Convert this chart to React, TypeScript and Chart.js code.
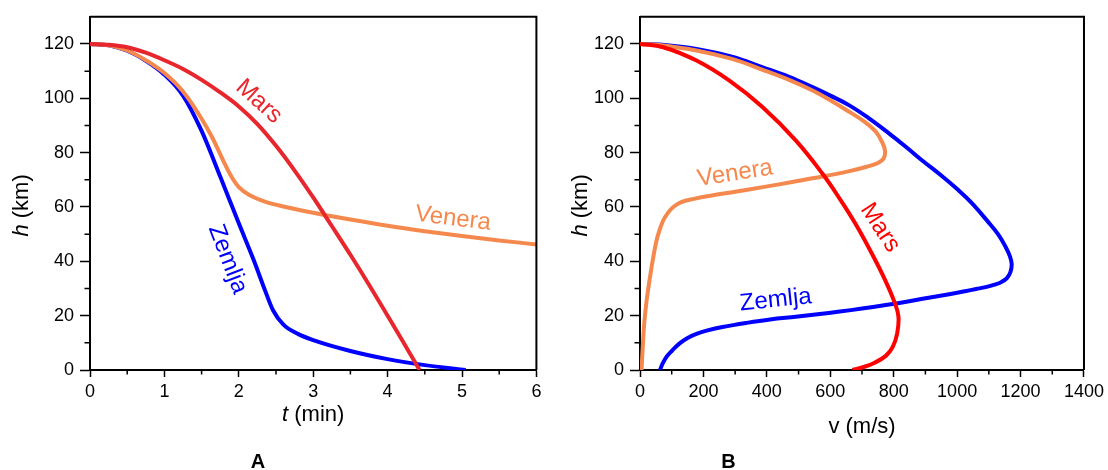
import React, { useEffect, useRef } from "react";
import { Chart, registerables } from "chart.js";

Chart.register(...registerables);

const FONT = '"Liberation Sans", Arial, Helvetica, sans-serif';

// ---------- Panel A : altitude h (km) vs time t (min) ----------
const marsTimeA = [0, 0.25, 0.5, 0.75, 1.0, 1.25, 1.5, 1.75, 2.0, 2.25, 2.5, 2.75, 3.0, 3.25, 3.5, 3.75, 4.0, 4.2, 4.43];
const marsAltA = [120, 119.7, 118.8, 116.8, 114.0, 110.8, 106.8, 102.2, 97.0, 90.5, 82.5, 73.4, 63.5, 53.0, 42.4, 31.4, 20.0, 10.8, 0];

const veneraTimeA = [0, 0.25, 0.5, 0.75, 1.0, 1.25, 1.5, 1.65, 1.8, 1.9, 2.0, 2.15, 2.35, 2.6, 3.0, 3.5, 4.0, 4.5, 5.0, 5.5, 6.0];
const veneraAltA = [120, 119.5, 117.6, 114.0, 109.3, 102.5, 92.5, 85.2, 76.5, 71.2, 67.3, 64.3, 62.0, 60.2, 57.9, 55.4, 53.1, 51.1, 49.3, 47.7, 46.2];

const zemljaTimeA = [0, 0.25, 0.5, 0.75, 1.0, 1.25, 1.5, 1.75, 2.0, 2.2, 2.35, 2.46, 2.6, 2.8, 3.0, 3.5, 4.0, 4.5, 5.05];
const zemljaAltA = [120, 119.5, 117.5, 113.8, 108.7, 101.0, 88.0, 71.2, 54.0, 40.5, 29.5, 22.0, 16.7, 13.2, 11.0, 7.0, 4.0, 1.8, 0];

// ---------- Panel B : altitude h (km) vs speed v (m/s) ----------
const marsSpeedB = [0, 73, 178, 282, 387, 491, 575, 630, 679, 731, 773, 804, 815, 811, 797, 775, 740, 705, 670];
const marsAltB = [120, 118.8, 113.9, 106.5, 96.7, 84.5, 72.3, 63.0, 53.9, 42.9, 33.1, 24.5, 19.6, 13.5, 8.5, 5.2, 2.7, 1.1, 0];

const veneraSpeedB = [0, 60, 178, 290, 387, 470, 544, 600, 660, 710, 745, 765, 773, 768, 750, 715, 660, 575, 480, 387, 300, 230, 170, 130, 105, 88, 73, 55, 42, 30, 21, 14, 10, 7, 5];
const veneraAltB = [120, 119.6, 117.6, 114.5, 110.5, 106.8, 102.9, 99.3, 95.0, 91.2, 87.5, 83.5, 80.5, 77.8, 76.2, 74.8, 73.2, 71.2, 69.2, 67.3, 65.6, 64.3, 63.0, 61.8, 60.0, 57.8, 55.0, 49.0, 41.6, 33.0, 25.7, 18.0, 11.0, 5.0, 0];

const zemljaSpeedB = [0, 60, 178, 290, 387, 470, 544, 600, 660, 720, 784, 840, 888, 950, 1000, 1045, 1097, 1130, 1152, 1166, 1172, 1168, 1157, 1140, 1118, 1090, 1060, 1025, 975, 910, 840, 770, 700, 630, 560, 491, 410, 334, 260, 210, 178, 150, 125, 100, 84, 72, 63];
const zemljaAltB = [120, 119.8, 118.2, 115.3, 111.4, 107.9, 104.1, 101.0, 97.4, 92.8, 87.2, 82.0, 77.3, 71.6, 66.6, 61.6, 54.6, 49.8, 45.5, 42.0, 39.0, 36.0, 33.8, 32.4, 31.4, 30.5, 29.8, 29.0, 27.9, 26.6, 25.1, 23.8, 22.6, 21.5, 20.5, 19.6, 18.6, 17.3, 15.8, 14.5, 13.3, 11.8, 9.8, 7.0, 4.9, 2.5, 0];

// ---------- ticks ----------
const tTicks = [0, 1, 2, 3, 4, 5, 6];
const tMinorTicks = [0.5, 1.5, 2.5, 3.5, 4.5, 5.5];
const vTicks = [0, 200, 400, 600, 800, 1000, 1200, 1400];
const vMinorTicks = [100, 300, 500, 700, 900, 1100, 1300];
const hTicks = [0, 20, 40, 60, 80, 100, 120];
const hMinorTicks = [10, 30, 50, 70, 90, 110];

const RED_A = "#e8262d";
const RED_B = "#ff0000";
const BLUE = "#0000ff";
const ORANGE = "#f5894d";

type Curve = { label: string; xs: number[]; ys: number[]; color: string };
type Note = { text: string; x: number; y: number; angle: number; color: string };
type Spec = {
  curves: Curve[];
  xMax: number;
  xTicks: number[];
  xMinor: number[];
  xTitle: [string, boolean][];
  xTitleDy: number;
  yTitleDx: number;
  notes: Note[];
  letter: string;
  letterDx: number;
  yAxisWidth: number;
  padRight: number;
  monotone: boolean;
};

const specA: Spec = {
  curves: [
    { label: "Mars", xs: marsTimeA, ys: marsAltA, color: RED_A },
    { label: "Venera", xs: veneraTimeA, ys: veneraAltA, color: ORANGE },
    { label: "Zemlja", xs: zemljaTimeA, ys: zemljaAltA, color: BLUE },
  ],
  xMax: 6,
  xTicks: tTicks,
  xMinor: tMinorTicks,
  xTitle: [["t", true], [" (min)", false]],
  xTitleDy: 45,
  yTitleDx: 68,
  notes: [
    { text: "Mars", x: 2.27, y: 98.8, angle: 42, color: RED_A },
    { text: "Zemlja", x: 1.85, y: 40.8, angle: 69, color: BLUE },
    { text: "Venera", x: 4.88, y: 55.7, angle: 7, color: ORANGE },
  ],
  letter: "A",
  letterDx: 168,
  yAxisWidth: 90,
  padRight: 17.6,
  monotone: true,
};

const specB: Spec = {
  curves: [
    { label: "Mars", xs: marsSpeedB, ys: marsAltB, color: RED_B },
    { label: "Venera", xs: veneraSpeedB, ys: veneraAltB, color: ORANGE },
    { label: "Zemlja", xs: zemljaSpeedB, ys: zemljaAltB, color: BLUE },
  ],
  xMax: 1400,
  xTicks: vTicks,
  xMinor: vMinorTicks,
  xTitle: [["v (m/s)", false]],
  xTitleDy: 56.7,
  yTitleDx: 59.5,
  notes: [
    { text: "Venera", x: 300, y: 72.3, angle: -9, color: ORANGE },
    { text: "Mars", x: 757, y: 52.4, angle: 57, color: RED_B },
    { text: "Zemlja", x: 428, y: 25.7, angle: -6, color: BLUE },
  ],
  letter: "B",
  letterDx: 88.5,
  yAxisWidth: 86,
  padRight: 21.6,
  monotone: false,
};

function drawParts(ctx: CanvasRenderingContext2D, parts: [string, boolean][], cx: number, cy: number, rot: number, size: number, color: string) {
  ctx.save();
  ctx.translate(cx, cy);
  ctx.rotate(rot);
  ctx.fillStyle = color;
  ctx.textBaseline = "middle";
  ctx.textAlign = "left";
  const fonts = parts.map(([, it]) => `${it ? "italic " : ""}${size}px ${FONT}`);
  let total = 0;
  const widths = parts.map(([t], i) => {
    ctx.font = fonts[i];
    const w = ctx.measureText(t).width;
    total += w;
    return w;
  });
  let x = -total / 2;
  parts.forEach(([t], i) => {
    ctx.font = fonts[i];
    ctx.fillText(t, x, 0);
    x += widths[i];
  });
  ctx.restore();
}

function buildChart(canvas: HTMLCanvasElement, spec: Spec) {
  const decor = {
    id: "decor",
    afterDraw(chart: any) {
      const { ctx, chartArea: a, scales } = chart;
      const xs = scales.x;
      const ys = scales.y;
      ctx.save();
      ctx.strokeStyle = "#000";
      ctx.lineWidth = 2;
      ctx.beginPath();
      ctx.moveTo(a.left, a.top);
      ctx.lineTo(a.right, a.top);
      ctx.lineTo(a.right, a.bottom);
      ctx.stroke();
      ctx.lineWidth = 1.5;
      ctx.beginPath();
      spec.xMinor.forEach((v) => {
        const p = xs.getPixelForValue(v);
        ctx.moveTo(p, a.bottom);
        ctx.lineTo(p, a.bottom + 4.5);
      });
      hMinorTicks.forEach((v) => {
        const p = ys.getPixelForValue(v);
        ctx.moveTo(a.left, p);
        ctx.lineTo(a.left - 5.5, p);
      });
      ctx.stroke();

      spec.notes.forEach((n) => {
        drawParts(ctx, [[n.text, false]], xs.getPixelForValue(n.x), ys.getPixelForValue(n.y), (n.angle * Math.PI) / 180, 24, n.color);
      });

      drawParts(ctx, spec.xTitle, (a.left + a.right) / 2, a.bottom + spec.xTitleDy, 0, 22, "#000");
      drawParts(ctx, [["h", true], [" (km)", false]], a.left - spec.yTitleDx, (a.top + a.bottom) / 2 + 12, -Math.PI / 2, 22, "#000");

      ctx.fillStyle = "#000";
      ctx.font = `bold 20px ${FONT}`;
      ctx.textAlign = "center";
      ctx.textBaseline = "middle";
      ctx.fillText(spec.letter, a.left + spec.letterDx, 462);
      ctx.restore();
    },
  };

  return new Chart(canvas, {
    type: "scatter",
    data: {
      datasets: spec.curves.map((c) => ({
        label: c.label,
        data: c.xs.map((x, i) => ({ x, y: c.ys[i] })),
        showLine: true,
        borderColor: c.color,
        backgroundColor: c.color,
        borderWidth: 4,
        pointRadius: 0,
        pointHoverRadius: 0,
        tension: spec.monotone ? 0 : 0.4,
        cubicInterpolationMode: spec.monotone ? "monotone" : "default",
        borderCapStyle: "butt",
        borderJoinStyle: "round",
      })),
    } as any,
    options: {
      responsive: false,
      animation: false,
      devicePixelRatio: 1,
      events: [],
      layout: { padding: { left: 0, top: 16, right: spec.padRight, bottom: 0 } },
      plugins: { legend: { display: false }, tooltip: { enabled: false } },
      scales: {
        x: {
          type: "linear",
          min: 0,
          max: spec.xMax,
          afterBuildTicks: (s: any) => {
            s.ticks = spec.xTicks.map((v) => ({ value: v }));
          },
          afterFit: (s: any) => {
            s.height = 100;
          },
          grid: { display: true, drawOnChartArea: false, drawTicks: true, tickLength: 7, tickWidth: 1.5, tickColor: "#000" },
          border: { display: true, color: "#000", width: 2 },
          ticks: { color: "#000", font: { size: 18, family: FONT }, padding: 4, maxRotation: 0, autoSkip: false, callback: (v: any) => String(v) },
        },
        y: {
          type: "linear",
          min: 0,
          max: 130,
          afterBuildTicks: (s: any) => {
            s.ticks = hTicks.map((v) => ({ value: v }));
          },
          afterFit: (s: any) => {
            s.width = spec.yAxisWidth;
          },
          grid: { display: true, drawOnChartArea: false, drawTicks: true, tickLength: 10, tickWidth: 1.5, tickColor: "#000" },
          border: { display: true, color: "#000", width: 2 },
          ticks: { color: "#000", font: { size: 18, family: FONT }, padding: 6, autoSkip: false, callback: (v: any) => String(v) },
        },
      },
    } as any,
    plugins: [decor],
  });
}

export default function App() {
  const refA = useRef<HTMLCanvasElement>(null);
  const refB = useRef<HTMLCanvasElement>(null);
  useEffect(() => {
    const a = buildChart(refA.current!, specA);
    const b = buildChart(refB.current!, specB);
    return () => {
      a.destroy();
      b.destroy();
    };
  }, []);
  return (
    <div style={{ position: "absolute", left: 0, top: 0, width: 1108, height: 470, background: "#fff" }}>
      <canvas ref={refA} width={554} height={470} style={{ position: "absolute", left: 0, top: 0, width: 554, height: 470 }} />
      <canvas ref={refB} width={554} height={470} style={{ position: "absolute", left: 554, top: 0, width: 554, height: 470 }} />
    </div>
  );
}
